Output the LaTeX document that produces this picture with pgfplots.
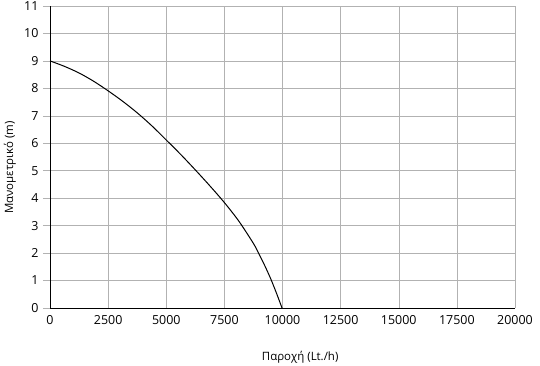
\documentclass[border=0pt]{standalone}
\usepackage{pgfplots}
\pgfplotsset{compat=1.18}
\usepackage{fontspec}
\setmainfont{Open Sans}
\begin{document}
\begin{tikzpicture}
\begin{axis}[
  name=ax,
  scale only axis,
  width=465bp, height=302bp,
  xmin=0, xmax=20000, ymin=0, ymax=11,
  xtick={0,2500,...,20000},
  ytick={0,1,...,11},
  scaled x ticks=false,
  /pgf/number format/assume math mode=true,
  xticklabel={\pgfmathprintnumber[fixed,precision=0,1000 sep={}]{\tick}},
  grid=major,
  grid style={gray!60, line width=0.5pt},
  axis line style={black, line width=1pt},
  axis x line*=bottom, axis y line*=left,
  separate axis lines,
  x axis line style={-}, y axis line style={-},
  tick style={gray!60, line width=0.5pt},
  xtick style={draw=none},
  ytick align=outside, tick pos=left,
  major tick length=7bp,
  tick label style={font=\fontsize{12.5}{14}\selectfont},
  xticklabel style={yshift=-4bp},
  yticklabel style={xshift=-1bp},
  xlabel={Παροχή (Lt./h)},
  ylabel={Μανομετρικό (m)},
  label style={font=\fontsize{11.5}{13}\selectfont},
  xlabel style={at={([yshift=-49bp]axis description cs:0.538,0)}, anchor=center},
  ylabel style={at={([xshift=-40bp]axis description cs:0,0.465)}, anchor=center},
  clip=false,
]
\addplot[black, line width=1pt, smooth] coordinates {
 (0,9) (625,8.8) (1250,8.56) (1875,8.26) (2500,7.91) (3125,7.53) (3750,7.11)
 (4375,6.64) (5000,6.12) (5625,5.59) (6250,5.03) (6875,4.45) (7500,3.84)
 (8125,3.16) (8750,2.35) (9000,1.95) (9250,1.52) (9500,1.05)
 (9750,0.52) (9980,0)
};
\end{axis}
\pgfresetboundingbox
\path[use as bounding box] (-50bp,-58bp) rectangle (490bp,308bp);
\end{tikzpicture}
\end{document}
